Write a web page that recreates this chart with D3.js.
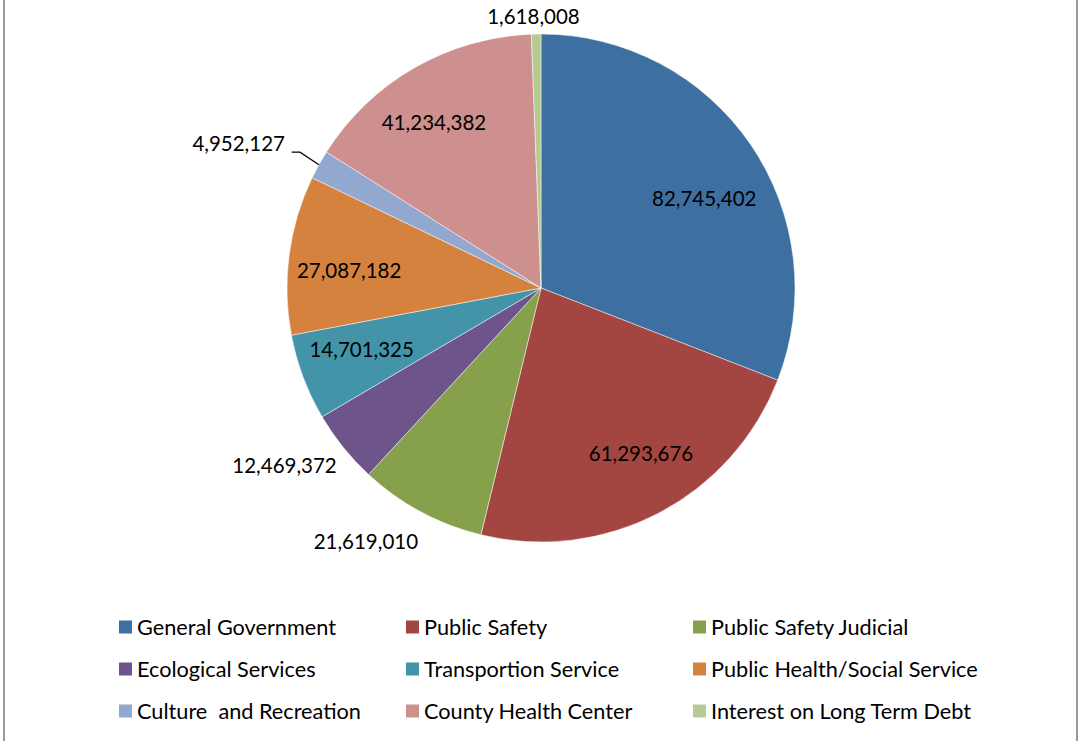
<!DOCTYPE html>
<html>
<head>
<meta charset="utf-8">
<script src="https://cdn.jsdelivr.net/npm/d3@7"></script>
<style>
  body { margin: 0; background: #fff; }
  svg { display: block; }
  text { font-family: Lato, "Liberation Sans", sans-serif; fill: #000; }
</style>
</head>
<body>
<svg width="1078" height="741"></svg>
<script>
// budget categories, clockwise from 12 o'clock
var categories = ["General Government", "Public Safety", "Public Safety Judicial",
                  "Ecological Services", "Transportion Service", "Public Health/Social Service",
                  "Culture  and Recreation", "County Health Center", "Interest on Long Term Debt"];
var values = [82745402, 61293676, 21619010, 12469372, 14701325, 27087182, 4952127, 41234382, 1618008];
var colors = ["#3d6fa0", "#a34642", "#86a04c", "#6d558b", "#4394a9", "#d6823f", "#93a8ce", "#ce908e", "#b5cb93"];

// where each value label sits: inside the slice or outside, plus a small nudge
var labelInside = [true, true, false, false, true, true, false, true, false];
var labelNudge  = [[6, 18], [12, -3], [-37, -4], [-29, -5], [-1, -5], [-3, 8], [-47, -2], [-12, 0], [-2, 21]];

var svg = d3.select("svg"),
    W = 1078, H = 741,
    cx = 541, cy = 288, R = 254;

// chart frame (only the side edges show)
svg.append("line").attr("x1", 4).attr("x2", 4).attr("y1", 0).attr("y2", H)
  .attr("stroke", "#999").attr("stroke-width", 2);
svg.append("line").attr("x1", 1077).attr("x2", 1077).attr("y1", 0).attr("y2", H)
  .attr("stroke", "#999").attr("stroke-width", 2);

var data = categories.map(function (c, i) { return {name: c, value: values[i], i: i}; });

var pie = d3.pie().sort(null).value(function (d) { return d.value; })
  .startAngle(0).endAngle(2 * Math.PI);
var arcs = pie(data);

var arc = d3.arc().innerRadius(0).outerRadius(R);
var inArc = d3.arc().innerRadius(R * 0.75).outerRadius(R * 0.75);
var outArc = d3.arc().innerRadius(R * 1.15).outerRadius(R * 1.15);
var edgeArc = d3.arc().innerRadius(R).outerRadius(R);

var g = svg.append("g").attr("transform", "translate(" + cx + "," + cy + ")");

g.selectAll(".slice")
  .data(arcs)
  .enter().append("path")
    .attr("class", "slice")
    .attr("d", arc)
    .attr("fill", function (d) { return colors[d.data.i]; })
    .attr("stroke", "rgba(255,255,255,0.6)")
    .attr("stroke-width", 0.8);

var fmt = d3.format(",");

function labelPos(d) {
  var p = (labelInside[d.data.i] ? inArc : outArc).centroid(d),
      n = labelNudge[d.data.i];
  return [p[0] + n[0], p[1] + n[1]];
}

g.selectAll(".lbl")
  .data(arcs)
  .enter().append("text")
    .attr("class", "lbl")
    .attr("x", function (d) { return labelPos(d)[0]; })
    .attr("y", function (d) { return labelPos(d)[1]; })
    .attr("dy", "0.35em")
    .attr("text-anchor", "middle")
    .attr("font-size", 20.5)
    .text(function (d) { return fmt(d.data.value); });

// leader line for the thin culture slice
var cult = arcs[6],
    e = edgeArc.centroid(cult),
    lp = labelPos(cult);
g.append("polyline")
  .attr("points", [[e[0], e[1]], [e[0] - 19, lp[1] + 8], [lp[0] + 53, lp[1] + 8]].map(function (p) { return p.join(","); }).join(" "))
  .attr("fill", "none")
  .attr("stroke", "#000")
  .attr("stroke-width", 1.2);

// legend, 3 columns
var legX = d3.scaleOrdinal().domain([0, 1, 2]).range([119, 406, 693]);
var legY = d3.scaleOrdinal().domain([0, 1, 2]).range([627, 669, 711]);

var leg = svg.selectAll(".leg")
  .data(data)
  .enter().append("g")
    .attr("class", "leg")
    .attr("transform", function (d) {
      return "translate(" + legX(d.i % 3) + "," + legY(Math.floor(d.i / 3)) + ")";
    });

leg.append("rect")
  .attr("x", 0).attr("y", -6.5)
  .attr("width", 13).attr("height", 13)
  .attr("fill", function (d) { return colors[d.i]; });

leg.append("text")
  .attr("x", 18)
  .attr("dy", "0.35em")
  .attr("font-size", 21.7)
  .style("white-space", "pre")
  .text(function (d) { return d.name; });
</script>
</body>
</html>
